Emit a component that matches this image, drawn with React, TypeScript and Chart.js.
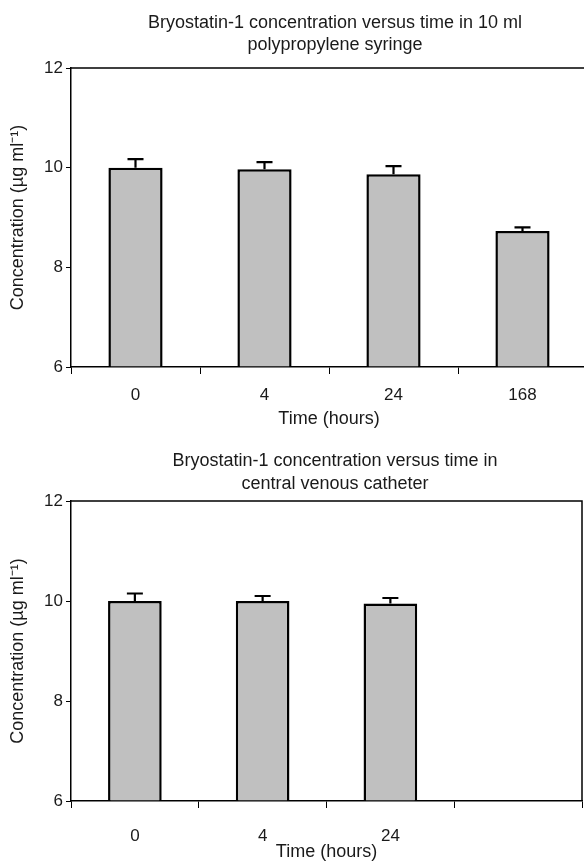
import React, { useEffect, useRef } from 'react';
import { Chart, registerables } from 'chart.js';

Chart.register(...registerables);

const titleTop = ['Bryostatin-1 concentration versus time in 10 ml', 'polypropylene syringe'];
const titleBottom = ['Bryostatin-1 concentration versus time in', 'central venous catheter'];
const categoriesTop = ['0', '4', '24', '168'];
const valuesTop = [10.0, 9.97, 9.87, 8.73];
const errorsTop = [0.17, 0.14, 0.16, 0.07];
const categoriesBottom = ['0', '4', '24', ''];
const valuesBottom = [10.0, 10.0, 9.95, null];
const errorsBottom = [0.15, 0.1, 0.11, null];
const yMin = 6;
const yMax = 12;
const yStep = 2;
const xTitle = 'Time (hours)';
const yTitle = 'Concentration (\u00b5g ml\u207b\u00b9)';

const FONT = "'Liberation Sans', Arial, sans-serif";
const TEXT = '#1a1a1a';

const errorBarPlugin = {
  id: 'errorBars',
  afterDatasetsDraw(chart: any) {
    const ctx = chart.ctx;
    const yScale = chart.scales.y;
    chart.data.datasets.forEach((ds: any, di: number) => {
      const meta = chart.getDatasetMeta(di);
      const errs = ds.errors || [];
      meta.data.forEach((bar: any, i: number) => {
        const v = ds.data[i];
        const e = errs[i];
        if (v == null || e == null) return;
        const x = bar.x;
        const y0 = yScale.getPixelForValue(v);
        const y1 = yScale.getPixelForValue(v + e);
        ctx.save();
        ctx.strokeStyle = '#000';
        ctx.lineWidth = 2.2;
        ctx.beginPath();
        ctx.moveTo(x, y0);
        ctx.lineTo(x, y1);
        ctx.moveTo(x - 8, y1);
        ctx.lineTo(x + 8, y1);
        ctx.stroke();
        ctx.restore();
      });
    });
  },
};

const framePlugin = {
  id: 'frame',
  afterDraw(chart: any) {
    const { ctx, chartArea } = chart;
    ctx.save();
    ctx.strokeStyle = '#000';
    ctx.lineWidth = 1.5;
    ctx.beginPath();
    ctx.moveTo(chartArea.left, chartArea.top);
    ctx.lineTo(chartArea.right, chartArea.top);
    ctx.lineTo(chartArea.right, chartArea.bottom);
    ctx.stroke();
    ctx.restore();
  },
};

function titlePlugin(lines: string[], off1: number, off2: number) {
  return {
    id: 'customTitle',
    afterDraw(chart: any) {
      const { ctx, chartArea } = chart;
      ctx.save();
      ctx.fillStyle = TEXT;
      ctx.font = `18px ${FONT}`;
      ctx.textAlign = 'center';
      ctx.textBaseline = 'middle';
      const cx = 335;
      ctx.fillText(lines[0], cx, chartArea.top - off1);
      ctx.fillText(lines[1], cx, chartArea.top - off2);
      ctx.restore();
    },
  };
}

function makeConfig(p: any): any {
  return {
    type: 'bar',
    data: {
      labels: p.labels,
      datasets: [
        {
          data: p.values,
          errors: p.errors,
          backgroundColor: '#c0c0c0',
          borderColor: '#000',
          borderWidth: 2.5,
          borderSkipped: 'bottom',
          base: yMin,
          barPercentage: 0.42,
          categoryPercentage: 1.0,
        },
      ],
    },
    options: {
      animation: false,
      responsive: false,
      devicePixelRatio: 1,
      layout: { padding: { top: p.padTop, right: p.padRight, left: 0, bottom: 0 } },
      plugins: {
        legend: { display: false },
        tooltip: { enabled: false },
        title: { display: false },
      },
      scales: {
        x: {
          grid: {
            offset: true,
            drawOnChartArea: false,
            drawTicks: true,
            tickLength: 7,
            color: '#000',
            lineWidth: 1,
          },
          border: { display: true, color: '#000', width: 1.5 },
          ticks: { color: TEXT, font: { family: FONT, size: 17 }, padding: p.tickPad },
          title: {
            display: true,
            text: xTitle,
            color: TEXT,
            font: { family: FONT, size: 18 },
            padding: { top: 0, bottom: p.xTitlePad },
          },
          afterFit(scale: any) {
            scale.height = p.xHeight;
          },
        },
        y: {
          min: yMin,
          max: yMax,
          grid: {
            drawOnChartArea: false,
            drawTicks: true,
            tickLength: 5,
            color: '#000',
            lineWidth: 1,
          },
          border: { display: true, color: '#000', width: 1.5 },
          ticks: { stepSize: yStep, color: TEXT, font: { family: FONT, size: 17 }, padding: 3 },
          title: {
            display: true,
            text: yTitle,
            color: TEXT,
            font: { family: FONT, size: 18 },
            padding: { top: 7, bottom: 0 },
          },
          afterFit(scale: any) {
            scale.width = 71;
          },
        },
      },
    },
    plugins: [errorBarPlugin, framePlugin, titlePlugin(p.title, p.off1, p.off2)],
  };
}

function BarChart(props: any) {
  const ref = useRef<HTMLCanvasElement>(null);
  useEffect(() => {
    if (!ref.current) return;
    const chart = new Chart(ref.current, makeConfig(props));
    return () => chart.destroy();
  }, []);
  return (
    <canvas
      ref={ref}
      width={props.width}
      height={props.height}
      style={{ position: 'absolute', left: 0, top: props.top, width: props.width, height: props.height }}
    />
  );
}

export default function App() {
  return (
    <div
      style={{
        position: 'absolute',
        left: 0,
        top: 0,
        width: 584,
        height: 863,
        overflow: 'hidden',
        background: '#fff',
      }}
    >
      <BarChart
        title={titleTop}
        labels={categoriesTop}
        values={valuesTop}
        errors={errorsTop}
        width={590}
        height={440}
        padTop={68}
        padRight={3}
        xHeight={73}
        tickPad={11}
        xTitlePad={10}
        off1={45}
        off2={23}
        top={0}
      />
      <BarChart
        title={titleBottom}
        labels={categoriesBottom}
        values={valuesBottom}
        errors={errorsBottom}
        width={584}
        height={423}
        padTop={61}
        padRight={2}
        xHeight={62}
        tickPad={18}
        xTitlePad={0}
        off1={40}
        off2={17}
        top={440}
      />
    </div>
  );
}
